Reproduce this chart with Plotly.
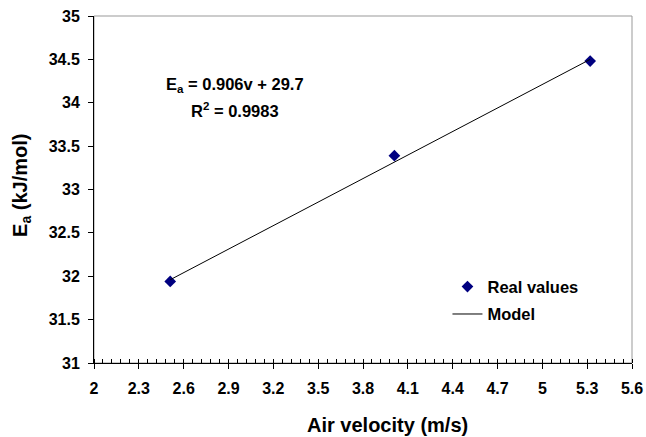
import plotly.graph_objects as go

# Data
air_velocity = [2.51, 4.01, 5.32]
ea_real = [31.94, 33.39, 34.48]
ea_model = [31.96, 33.32, 34.50]
x_ticks = [2, 2.3, 2.6, 2.9, 3.2, 3.5, 3.8, 4.1, 4.4, 4.7, 5, 5.3, 5.6]
x_tick_labels = ["2", "2.3", "2.6", "2.9", "3.2", "3.5", "3.8", "4.1", "4.4", "4.7", "5", "5.3", "5.6"]
y_ticks = [31, 31.5, 32, 32.5, 33, 33.5, 34, 34.5, 35]
y_tick_labels = ["31", "31.5", "32", "32.5", "33", "33.5", "34", "34.5", "35"]

FONT = "Liberation Sans, Arial, sans-serif"

fig = go.Figure()
fig.add_trace(go.Scatter(
    x=air_velocity, y=ea_real, mode="markers", name="Real values",
    marker=dict(symbol="diamond", size=9, color="#000080"),
    legendgroup="a",
))
fig.add_trace(go.Scatter(
    x=air_velocity, y=ea_model, mode="lines", name="Model",
    line=dict(color="black", width=1),
    legendgroup="b",
))

fig.update_layout(
    width=646, height=437,
    margin=dict(l=94, r=14, t=16, b=74, autoexpand=False),
    paper_bgcolor="white", plot_bgcolor="white",
    font=dict(family=FONT, color="black", size=16),
    showlegend=True,
    legend=dict(
        x=0.657, y=0.27, xanchor="left", yanchor="top",
        bgcolor="rgba(0,0,0,0)", traceorder="grouped", tracegroupgap=3,
        font=dict(family=FONT, size=16.5, color="black", weight="bold"),
    ),
    xaxis=dict(
        range=[2, 5.6], tickvals=x_ticks, ticktext=x_tick_labels,
        showgrid=False, zeroline=False, automargin=False,
        showline=True, linecolor="black", linewidth=1,
        ticks="outside", ticklen=5, tickcolor="black",
        ticklabelstandoff=6,
        tickfont=dict(family=FONT, size=16, weight="bold"),
        minor=dict(ticks="inside", ticklen=4, tick0=2, dtick=0.06, tickcolor="black", showgrid=False),
    ),
    yaxis=dict(
        range=[31, 35], tickvals=y_ticks, ticktext=y_tick_labels,
        showgrid=False, zeroline=False, automargin=False,
        showline=True, linecolor="black", linewidth=1,
        ticks="outside", ticklen=5, tickcolor="black",
        ticklabelstandoff=5,
        tickfont=dict(family=FONT, size=16, weight="bold"),
    ),
    shapes=[dict(type="rect", xref="paper", yref="paper", x0=0, y0=0, x1=1, y1=1,
                 line=dict(color="#999999", width=1), layer="below")],
    annotations=[
        dict(text="Air velocity (m/s)", xref="paper", yref="paper", x=0.545, y=-0.179,
             xanchor="center", yanchor="middle", showarrow=False,
             font=dict(family=FONT, size=20, weight="bold")),
        dict(text="E<sub>a</sub> (kJ/mol)", xref="paper", yref="paper", x=-0.134, y=0.513,
             xanchor="center", yanchor="middle", showarrow=False, textangle=-90,
             font=dict(family=FONT, size=20, weight="bold")),
        dict(text="E<sub>a</sub> = 0.906v + 29.7", xref="paper", yref="paper", x=0.262, y=0.801,
             xanchor="center", yanchor="middle", showarrow=False,
             font=dict(family=FONT, size=16.5, weight="bold")),
        dict(text="R<sup>2</sup> = 0.9983", xref="paper", yref="paper", x=0.262, y=0.729,
             xanchor="center", yanchor="middle", showarrow=False,
             font=dict(family=FONT, size=16.5, weight="bold")),
    ],
)

fig.write_html("out.html")
